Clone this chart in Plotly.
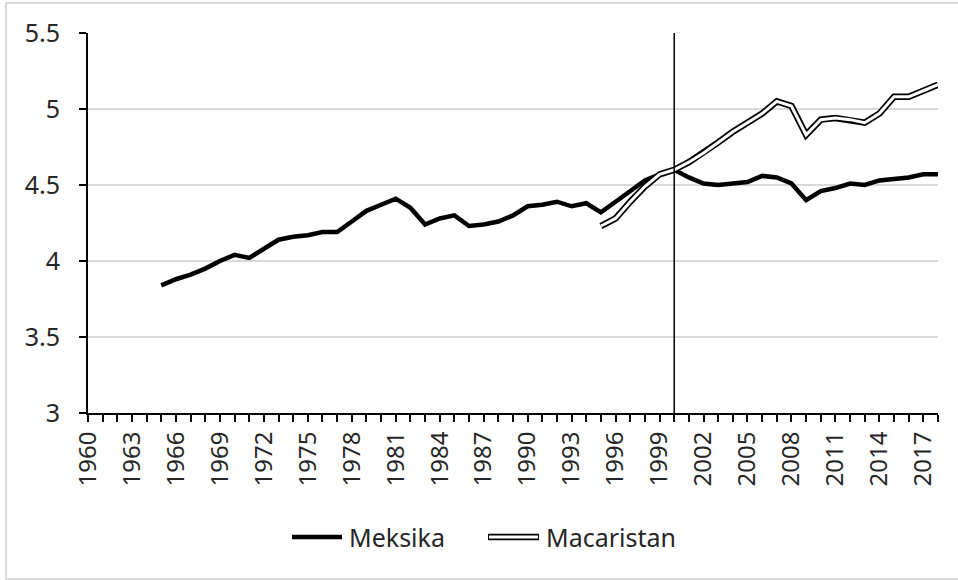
import plotly.graph_objects as go

# years on the category axis
years = list(range(1960, 2019))

# Meksika, 1965-2018
mex_years = list(range(1965, 2019))
mex_values = [
    3.84, 3.88, 3.91, 3.95, 4.00, 4.04, 4.02, 4.08, 4.14, 4.16,
    4.17, 4.19, 4.19, 4.26, 4.33, 4.37, 4.41, 4.35, 4.24, 4.28,
    4.30, 4.23, 4.24, 4.26, 4.30, 4.36, 4.37, 4.39, 4.36, 4.38,
    4.32, 4.39, 4.46, 4.53, 4.57, 4.60, 4.55, 4.51, 4.50, 4.51,
    4.52, 4.56, 4.55, 4.51, 4.40, 4.46, 4.48, 4.51, 4.50, 4.53,
    4.54, 4.55, 4.57, 4.57,
]

# Macaristan, 1995-2018
hun_years = list(range(1995, 2019))
hun_values = [
    4.23, 4.28, 4.39, 4.49, 4.57, 4.60, 4.65, 4.71, 4.78, 4.85,
    4.91, 4.97, 5.05, 5.02, 4.83, 4.93, 4.94, 4.93, 4.91, 4.97,
    5.08, 5.08, 5.12, 5.16,
]

y_ticks = [3, 3.5, 4, 4.5, 5, 5.5]
y_labels = ["3", "3.5", "4", "4.5", "5", "5.5"]
label_years = years[::3]
marker_year = 2000

font_family = "Noto Sans, Open Sans, sans-serif"
text_color = "#262626"

fig = go.Figure()

fig.add_trace(go.Scatter(
    x=mex_years, y=mex_values, mode="lines",
    line=dict(color="black", width=4.5), showlegend=False,
    hoverinfo="skip",
))

# double line: black outline + white core
fig.add_trace(go.Scatter(
    x=hun_years, y=hun_values, mode="lines",
    line=dict(color="black", width=6.5), showlegend=False,
    hoverinfo="skip",
))
fig.add_trace(go.Scatter(
    x=hun_years, y=hun_values, mode="lines",
    line=dict(color="white", width=3), showlegend=False,
    hoverinfo="skip",
))

# vertical reference line
fig.add_shape(type="line", xref="x", yref="y",
              x0=marker_year, x1=marker_year, y0=3, y1=5.5,
              line=dict(color="black", width=1.5))

# plot area spans pixels 88..938 horizontally, 33..413 vertically
def px(v):
    return (v - 88) / 850

def py(v):
    return (413 - v) / 380

# chart area border
fig.add_shape(type="rect", xref="paper", yref="paper",
              x0=px(6), x1=px(970), y0=py(579), y1=py(3),
              line=dict(color="#d9d9d9", width=2), layer="below")

# hand-made legend
leg_y = py(537)
fig.add_shape(type="line", xref="paper", yref="paper",
              x0=px(292), x1=px(342), y0=leg_y, y1=leg_y,
              line=dict(color="black", width=4.5))
fig.add_shape(type="line", xref="paper", yref="paper",
              x0=px(488), x1=px(539), y0=leg_y, y1=leg_y,
              line=dict(color="black", width=6.5))
fig.add_shape(type="line", xref="paper", yref="paper",
              x0=px(489), x1=px(538), y0=leg_y, y1=leg_y,
              line=dict(color="white", width=3))
fig.add_annotation(xref="paper", yref="paper", x=px(347), y=leg_y,
                   text="Meksika", showarrow=False,
                   xanchor="left", yanchor="middle",
                   font=dict(size=25, color=text_color, family=font_family))
fig.add_annotation(xref="paper", yref="paper", x=px(544), y=leg_y,
                   text="Macaristan", showarrow=False,
                   xanchor="left", yanchor="middle",
                   font=dict(size=25, color=text_color, family=font_family))

fig.update_layout(
    width=958, height=580,
    margin=dict(l=88, r=20, t=33, b=167),
    paper_bgcolor="white", plot_bgcolor="white",
    font=dict(family=font_family, color=text_color),
)

fig.update_xaxes(
    range=[1960, 2018],
    tickvals=label_years, ticktext=[str(y) for y in label_years],
    tickangle=-90, tickfont=dict(size=24),
    ticks="outside", ticklen=7, tickcolor="black", tickwidth=1.5,
    minor=dict(tickvals=years, ticks="outside", ticklen=7,
               tickcolor="black", tickwidth=1.5, showgrid=False),
    showline=True, linecolor="black", linewidth=2,
    showgrid=False, zeroline=False,
)

fig.update_yaxes(
    range=[3, 5.5],
    tickvals=y_ticks, ticktext=y_labels, tickfont=dict(size=25),
    ticks="outside", ticklen=7, tickcolor="black", tickwidth=1.5,
    ticklabelstandoff=14,
    showline=True, linecolor="black", linewidth=2,
    showgrid=True, gridcolor="#d9d9d9", gridwidth=1.5,
    zeroline=False,
)

fig.write_html("out.html", config={"displayModeBar": False},
               post_script="document.body.style.margin='0';")
